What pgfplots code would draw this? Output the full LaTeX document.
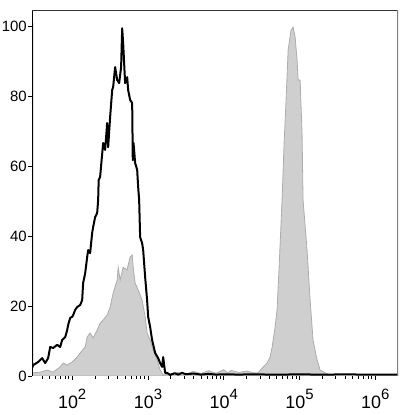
\documentclass[border=0pt]{standalone}
\usepackage{pgfplots}
\pgfplotsset{compat=1.18}
\usepackage{fontspec}
\setmainfont{Liberation Sans}
\definecolor{fillgray}{RGB}{207,207,207}
\definecolor{edgegray}{RGB}{172,172,172}
\newcommand{\tl}[1]{{\fontsize{18}{18}\selectfont 10\raisebox{9bp}{\fontsize{15}{15}\selectfont #1}}}
\begin{document}
\begin{tikzpicture}
\useasboundingbox (0,0) rectangle (408bp,415bp);
\begin{axis}[
  at={(32bp,39bp)}, anchor=south west,
  scale only axis, width=366bp, height=366bp,
  xmin=1.47, xmax=6.30, ymin=0, ymax=104.6,
  axis line style={draw=none},
  xtick={2,3,4,5,6},
  xticklabels={\tl{2},\tl{3},\tl{4},\tl{5},\tl{6}},
  minor xtick={1.602,1.699,1.778,1.845,1.903,1.954,
    2.301,2.477,2.602,2.699,2.778,2.845,2.903,2.954,
    3.301,3.477,3.602,3.699,3.778,3.845,3.903,3.954,
    4.301,4.477,4.602,4.699,4.778,4.845,4.903,4.954,
    5.301,5.477,5.602,5.699,5.778,5.845,5.903,5.954},
  ytick={0,20,40,60,80,100},
  xtick pos=bottom, ytick pos=left,
  tick align=outside,
  major tick length=4bp, minor tick length=2.5bp,
  every tick/.style={black, line width=0.6pt},
  /pgf/number format/assume math mode=true,
  yticklabel style={font=\fontsize{15}{15}\selectfont, inner xsep=1bp},
  xticklabel style={anchor=north, yshift=-9bp, inner sep=0pt},
  clip=true,
]
% gray filled histogram
\addplot[fill=fillgray, draw=edgegray, line width=0.8pt] coordinates {
(1.472,0.6) (1.485,0.9) (1.578,1.1) (1.670,1.7) (1.749,1.1) (1.842,2.6) (1.881,3.7)
(1.934,3.1) (2.000,4.0) (2.066,5.4) (2.106,6.6) (2.172,8.3) (2.198,11.1)
(2.237,12.3) (2.277,10.9) (2.330,13.1) (2.369,15.1) (2.409,16.0) (2.462,17.4)
(2.501,19.7) (2.541,23.7) (2.594,27.4) (2.607,31.1) (2.633,27.4) (2.673,31.1)
(2.726,30.3) (2.739,31.7) (2.765,34.0) (2.792,34.6) (2.805,31.1) (2.831,26.6)
(2.871,24.6) (2.923,21.7) (2.963,16.9) (2.989,12.3) (3.029,10.3) (3.069,7.4)
(3.121,4.6) (3.161,1.7) (3.201,0.3)
(3.30,0.6) (3.40,1.0) (3.50,0.5) (3.60,1.3) (3.70,0.7) (3.80,1.5) (3.90,0.8)
(4.00,1.8) (4.05,0.9) (4.10,1.6) (4.20,1.0) (4.30,1.4) (4.40,0.9)
(4.454,0.9) (4.520,2.6) (4.573,3.7) (4.612,5.4) (4.639,8.3) (4.678,14.0)
(4.704,18.9) (4.731,31.1) (4.770,50.3) (4.797,66.6) (4.823,78.9) (4.850,93.1)
(4.889,98.9) (4.916,99.7) (4.942,96.9) (4.968,90.3) (4.982,84.6) (5.008,84.6)
(5.034,69.4) (5.047,50.3) (5.100,36.0) (5.140,21.7) (5.179,10.3) (5.232,4.6)
(5.272,1.7) (5.338,0.9) (5.404,0.3) (5.50,0.0) (6.30,0.0)
} \closedcycle;
% black open histogram
\addplot[black, line width=2bp, line join=round] coordinates {
(1.472,100.9) (1.472,2.3) (1.485,3.1) (1.551,4.0) (1.604,5.1) (1.644,3.7)
(1.683,5.1) (1.710,8.3) (1.749,8.0) (1.802,8.9) (1.842,8.3) (1.868,10.3)
(1.908,11.1) (1.934,13.1) (1.947,14.6) (1.974,16.6) (2.000,16.9) (2.013,17.4)
(2.040,18.9) (2.066,19.7) (2.106,20.3) (2.132,21.7) (2.145,26.6) (2.172,29.4)
(2.198,34.0) (2.211,36.0) (2.237,35.1) (2.264,40.9) (2.277,42.6) (2.303,45.4)
(2.330,46.6) (2.343,50.3) (2.350,56.0) (2.369,56.9) (2.409,66.6) (2.435,64.6)
(2.462,72.3) (2.475,65.4) (2.501,74.0) (2.528,81.7) (2.541,82.6) (2.567,88.3)
(2.594,84.6) (2.620,83.7) (2.646,88.3) (2.660,99.4) (2.673,95.1) (2.699,83.7)
(2.726,85.4) (2.739,81.7) (2.765,78.9) (2.792,78.0) (2.800,61.7) (2.810,66.6)
(2.831,60.9) (2.858,58.9) (2.871,54.0) (2.884,50.3) (2.897,39.7) (2.923,38.0)
(2.937,36.0) (2.963,28.3) (2.989,21.7) (3.003,16.9) (3.029,14.0) (3.055,10.3)
(3.095,6.6) (3.135,5.1) (3.161,3.7) (3.187,2.6) (3.201,5.4) (3.227,0.9)
(3.253,0.9) (3.293,0.3) (3.35,0.8) (3.40,0.4) (3.45,0.9) (3.50,0.5) (3.60,0.7)
(3.70,0.4) (3.80,0.6) (3.90,0.4) (4.00,0.5) (4.20,0.4) (4.40,0.5) (4.60,0.4)
(4.80,0.4) (5.00,0.5) (5.20,0.4) (5.40,0.4) (5.60,0.5) (5.80,0.4) (6.00,0.4)
(6.30,0.4)
};
% frame
\draw[black, line width=0.6pt] (rel axis cs:0,0) -- (rel axis cs:0,1);
\draw[black, line width=0.8pt] (rel axis cs:0,0) -- (rel axis cs:1,0);
\draw[black!80, line width=0.6pt] (rel axis cs:0,1) -- (rel axis cs:1,1);
\draw[black!50, line width=1.5pt] (rel axis cs:1,0) -- (rel axis cs:1,1);
\end{axis}
\end{tikzpicture}
\end{document}
